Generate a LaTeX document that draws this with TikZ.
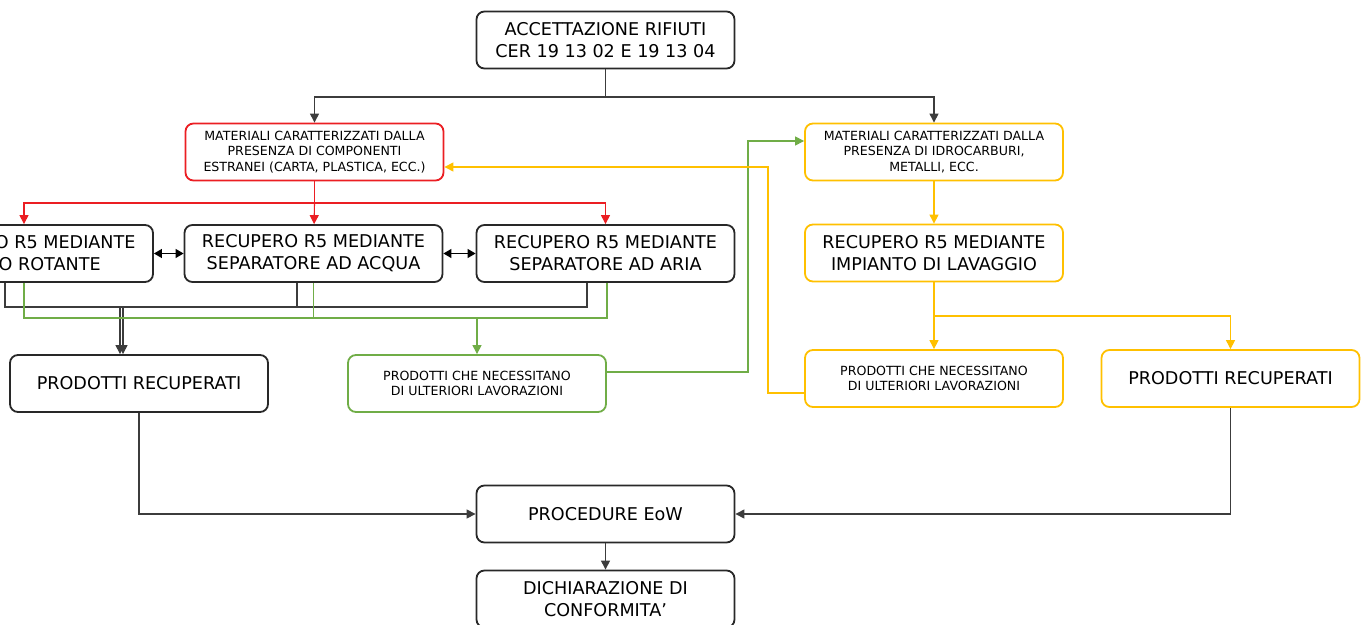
\documentclass[tikz,border=0pt]{standalone}
\usepackage{fontspec}
\setmainfont{DejaVu Sans}
\usetikzlibrary{arrows.meta, positioning}

\definecolor{rosso}{RGB}{235,30,35}
\definecolor{giallo}{RGB}{255,192,0}
\definecolor{verde}{RGB}{112,173,71}
\definecolor{scuro}{RGB}{40,40,40}
\definecolor{linea}{RGB}{60,60,60}

\tikzset{
  box/.style={draw=scuro, rounded corners=4pt, line width=0.9pt, minimum width=129pt,
    minimum height=28.5pt, align=center, inner sep=1pt, text=black,
    font=\fontsize{8.8}{11}\selectfont},
  smallbox/.style={box, font=\fontsize{6.3}{7.6}\selectfont},
  ln/.style={draw=linea, line width=0.55pt},
  arr/.style={ln, -{Triangle[length=4.5pt,width=4.5pt]}},
  dblarr/.style={draw=black, line width=0.55pt, {Triangle[length=4pt,width=4.5pt]}-{Triangle[length=4pt,width=4.5pt]}}
}

\begin{document}
\begin{tikzpicture}[x=0.5pt, y=-0.5pt]
  \path[use as bounding box, clip] (0,0) rectangle (1364,625);

  % nodi
  \node[box] (acc) at (605.5,40) {ACCETTAZIONE RIFIUTI\\CER 19 13 02 E 19 13 04};
  \node[smallbox, draw=rosso] (matR) at (314.5,152) {MATERIALI CARATTERIZZATI DALLA\\PRESENZA DI COMPONENTI\\ESTRANEI (CARTA, PLASTICA, ECC.)};
  \node[smallbox, draw=giallo] (matY) at (934,152) {MATERIALI CARATTERIZZATI DALLA\\PRESENZA DI IDROCARBURI,\\METALLI, ECC.};
  \node[box] (rot) at (24,253.5) {RECUPERO R5 MEDIANTE\\VAGLIO ROTANTE};
  \node[box] (acq) at (313.5,253.5) {RECUPERO R5 MEDIANTE\\SEPARATORE AD ACQUA};
  \node[box] (aria) at (605.5,253.5) {RECUPERO R5 MEDIANTE\\SEPARATORE AD ARIA};
  \node[box, draw=giallo] (lav) at (934,253) {RECUPERO R5 MEDIANTE\\IMPIANTO DI LAVAGGIO};
  \node[box] (recL) at (139,383.5) {PRODOTTI RECUPERATI};
  \node[smallbox, draw=verde] (lavG) at (477,383.5) {PRODOTTI CHE NECESSITANO\\DI ULTERIORI LAVORAZIONI};
  \node[smallbox, draw=giallo] (lavY) at (934,378.5) {PRODOTTI CHE NECESSITANO\\DI ULTERIORI LAVORAZIONI};
  \node[box, draw=giallo] (recY) at (1230.5,378.5) {PRODOTTI RECUPERATI};
  \node[box] (eow) at (605.5,514) {PROCEDURE EoW};
  \node[box] (dich) at (605.5,599) {DICHIARAZIONE DI\\CONFORMITA'};

  % punti di snodo
  \coordinate (t1) at (605.5,97);
  \coordinate (r1) at (314.5,203);
  \coordinate (bk1) at (123,307);
  \coordinate (bk2) at (120,307);
  \coordinate (gr1) at (477,318);
  \coordinate (gv) at (748,141);
  \coordinate (yv) at (768,167);
  \coordinate (y2) at (934,316);

  % accettazione
  \draw[ln] (acc) -- (t1);
  \draw[arr] (t1) -| (matR);
  \draw[arr] (t1) -| (matY);

  % linea rossa
  \draw[ln, draw=rosso] (matR) -- (r1);
  \draw[arr, draw=rosso] (r1) -| (rot);
  \draw[arr, draw=rosso] (r1) -- (acq);
  \draw[arr, draw=rosso] (r1) -| (aria);

  \draw[dblarr] (rot) -- (acq);
  \draw[dblarr] (acq) -- (aria);

  % prodotti recuperati
  \draw[ln] (rot.south -| 5,0) |- (bk1);
  \draw[arr] (bk1) -- (bk1 |- recL.north);
  \draw[ln] (acq.south -| 297,0) |- (bk2);
  \draw[ln] (aria.south -| 587,0) |- (bk2);
  \draw[arr] (bk2) -- (bk2 |- recL.north);

  % linea verde
  \draw[ln, draw=verde] (rot.south -| 24,0) |- (gr1);
  \draw[ln, draw=verde] (acq.south) |- (gr1);
  \draw[ln, draw=verde] (aria.south -| 607,0) |- (gr1);
  \draw[arr, draw=verde] (gr1) -- (lavG);
  \draw[arr, draw=verde] ([yshift=5.75pt]lavG.east) -| (gv) -- (gv -| matY.west);

  % linea gialla
  \draw[arr, draw=giallo] (matY) -- (lav);
  \draw[ln, draw=giallo] (lav) -- (y2);
  \draw[arr, draw=giallo] (y2) -- (lavY);
  \draw[arr, draw=giallo] (y2) -| (recY);
  \draw[arr, draw=giallo] ([yshift=-7.25pt]lavY.west) -| (yv) -- (yv -| matR.east);

  % procedure EoW
  \draw[arr] (recL) |- (eow);
  \draw[arr] (recY) |- (eow);
  \draw[arr] (eow) -- (dich);
\end{tikzpicture}
\end{document}
